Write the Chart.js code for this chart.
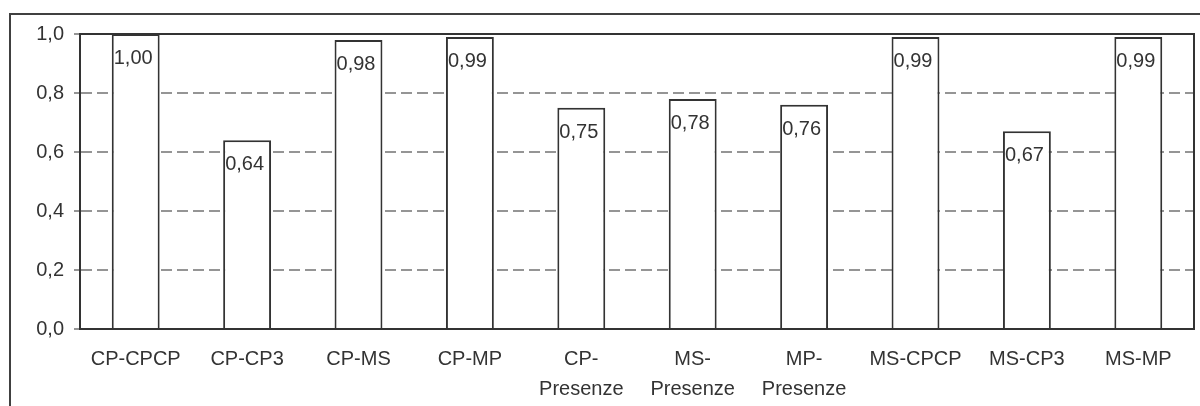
<!DOCTYPE html>
<html>
  <head>
    <meta charset="UTF-8">
    <script src="https://cdn.jsdelivr.net/npm/chart.js@4.4.0/dist/chart.umd.min.js"></script>
    <title>Confronto</title>
    <style>
      html, body { margin: 0; padding: 0; background: #fff; overflow: hidden; }
      #wrap { position: relative; width: 1200px; height: 406px; }
      #frame { position: absolute; left: 9px; top: 13px; width: 1200px; height: 400px;
               border-left: 2px solid #404040; border-top: 2px solid #404040; }
      canvas { position: absolute; left: 0; top: 0; }
    </style>
  </head>
  <body>
    <div id="wrap">
      <div id="frame"></div>
      <canvas id="myChart" width="1200" height="406"></canvas>
    </div>
    <script type="text/javascript">
      // data
      var categories = ['CP-CPCP', 'CP-CP3', 'CP-MS', 'CP-MP', ['CP-', 'Presenze'], ['MS-', 'Presenze'],
                        ['MP-', 'Presenze'], 'MS-CPCP', 'MS-CP3', 'MS-MP'];
      var values = [1.00, 0.64, 0.98, 0.99, 0.75, 0.78, 0.76, 0.99, 0.67, 0.99];
      var yTicks = [0, 0.2, 0.4, 0.6, 0.8, 1.0];

      var textColor = '#333333';
      var fontFamily = '"Liberation Sans", Arial, sans-serif';

      function comma (v, d) {
        return v.toFixed(d).replace('.', ',');
      }

      // frame on top and right of the plot area
      var plotFrame = {
        id: 'plotFrame',
        afterDatasetsDraw: function (chart) {
          var a = chart.chartArea, ctx = chart.ctx;
          ctx.save();
          ctx.strokeStyle = '#333333';
          ctx.lineWidth = 2;
          ctx.setLineDash([]);
          ctx.beginPath();
          ctx.moveTo(a.left, a.top);
          ctx.lineTo(a.right, a.top);
          ctx.lineTo(a.right, a.bottom);
          ctx.stroke();
          ctx.restore();
        }
      };

      // value labels inside the bars, top left
      var valueLabels = {
        id: 'valueLabels',
        afterDatasetsDraw: function (chart) {
          var ctx = chart.ctx;
          var meta = chart.getDatasetMeta(0);
          ctx.save();
          ctx.font = '20px ' + fontFamily;
          ctx.fillStyle = textColor;
          ctx.textAlign = 'left';
          ctx.textBaseline = 'alphabetic';
          meta.data.forEach(function (bar, i) {
            ctx.fillText(comma(values[i], 2), bar.x - bar.width / 2 + 2, bar.y + 30);
          });
          ctx.restore();
        }
      };

      var ctx = document.getElementById('myChart').getContext('2d');
      var myChart = new Chart(ctx, {
        type: 'bar',
        data: {
          labels: categories,
          datasets: [{
            data: values,
            backgroundColor: '#ffffff',
            borderColor: '#333333',
            borderWidth: 2,
            barPercentage: 0.43,
            categoryPercentage: 1
          }]
        },
        options: {
          responsive: false,
          animation: false,
          layout: { padding: { left: 0, top: 34, right: 6, bottom: 0 } },
          plugins: {
            legend: { display: false },
            tooltip: { enabled: false }
          },
          scales: {
            x: {
              afterFit: function (scale) { scale.height = 77; },
              grid: { display: false, drawTicks: false },
              border: { display: true, color: '#333333', width: 2 },
              ticks: {
                color: textColor,
                padding: 15,
                maxRotation: 0,
                autoSkip: false,
                font: { family: fontFamily, size: 20, lineHeight: 1.5 }
              }
            },
            y: {
              min: 0,
              max: 1,
              afterFit: function (scale) { scale.width = 80; },
              afterBuildTicks: function (scale) {
                scale.ticks = yTicks.map(function (v) { return { value: v }; });
              },
              grid: {
                color: function (c) {
                  var v = c.tick ? c.tick.value : 0;
                  return (v <= 0.001 || v >= 0.999) ? 'rgba(0,0,0,0)' : '#959595';
                },
                lineWidth: 2,
                tickLength: 6,
                tickColor: '#959595',
                tickWidth: 2,
                tickBorderDash: []
              },
              border: { display: true, color: '#333333', width: 2, dash: [11, 5] },
              ticks: {
                color: textColor,
                padding: 10,
                font: { family: fontFamily, size: 20, lineHeight: 1.2 },
                callback: function (v) { return comma(v, 1); }
              }
            }
          }
        },
        plugins: [plotFrame, valueLabels]
      });
    </script>
  </body>
</html>
